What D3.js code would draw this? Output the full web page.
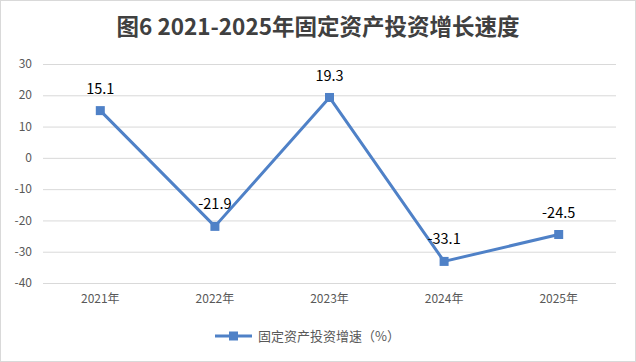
<!DOCTYPE html>
<html>
<head>
<meta charset="utf-8">
<script src="https://cdn.jsdelivr.net/npm/d3@7"></script>
<style>
  body { margin: 0; background: #fff; }
  text { font-family: "Noto Sans CJK SC", "Noto Sans", sans-serif; }
</style>
</head>
<body>
<div id="chart"></div>
<script>
// chart data
var years = ["2021年", "2022年", "2023年", "2024年", "2025年"];
var growth = [15.1, -21.9, 19.3, -33.1, -24.5];
var yTicks = [30, 20, 10, 0, -10, -20, -30, -40];
var seriesName = "固定资产投资增速（%）";
var title = "图6 2021-2025年固定资产投资增长速度";

var W = 636, H = 362;
var margin = { top: 64, right: 20, bottom: 79, left: 43 };

var svg = d3.select("#chart").append("svg")
    .attr("width", W)
    .attr("height", H);

// outer border
svg.append("rect")
    .attr("x", 0.5).attr("y", 0.5)
    .attr("width", W - 1).attr("height", H - 1)
    .attr("fill", "#fff")
    .attr("stroke", "#d9d9d9");

svg.append("text")
    .attr("x", 318).attr("y", 35)
    .attr("text-anchor", "middle")
    .attr("font-size", 22.5)
    .attr("font-weight", "bold")
    .attr("fill", "#404040")
    .text(title);

var x = d3.scaleBand()
    .domain(years)
    .range([margin.left, W - margin.right]);

var y = d3.scaleLinear()
    .domain([-40, 30])
    .range([H - margin.bottom, margin.top]);

// gridlines
svg.append("g")
    .selectAll("line")
    .data(yTicks)
    .join("line")
    .attr("x1", margin.left).attr("x2", W - margin.right)
    .attr("y1", function (d) { return y(d) + 0.5; })
    .attr("y2", function (d) { return y(d) + 0.5; })
    .attr("stroke", "#d9d9d9");

// y axis labels
svg.append("g")
    .selectAll("text")
    .data(yTicks)
    .join("text")
    .attr("x", 32)
    .attr("y", function (d) { return y(d); })
    .attr("dy", "0.35em")
    .attr("text-anchor", "end")
    .attr("font-size", 12)
    .attr("fill", "#595959")
    .text(function (d) { return d; });

// x axis labels
svg.append("g")
    .selectAll("text")
    .data(years)
    .join("text")
    .attr("x", function (d) { return x(d) + x.bandwidth() / 2; })
    .attr("y", 303)
    .attr("text-anchor", "middle")
    .attr("font-size", 12)
    .attr("fill", "#595959")
    .text(function (d) { return d; });

var color = "#4f81c7";

var line = d3.line()
    .x(function (d, i) { return x(years[i]) + x.bandwidth() / 2; })
    .y(function (d) { return y(d); });

svg.append("path")
    .datum(growth)
    .attr("d", line)
    .attr("fill", "none")
    .attr("stroke", color)
    .attr("stroke-width", 3)
    .attr("stroke-linejoin", "round");

svg.append("g")
    .selectAll("rect")
    .data(growth)
    .join("rect")
    .attr("x", function (d, i) { return x(years[i]) + x.bandwidth() / 2 - 4.5; })
    .attr("y", function (d) { return y(d) - 4.5; })
    .attr("width", 9).attr("height", 9)
    .attr("fill", color);

// data labels
svg.append("g")
    .selectAll("text")
    .data(growth)
    .join("text")
    .attr("x", function (d, i) { return x(years[i]) + x.bandwidth() / 2; })
    .attr("y", function (d) { return y(d) - 22; })
    .attr("dy", "0.35em")
    .attr("text-anchor", "middle")
    .attr("font-size", 14.5)
    .attr("fill", "#000")
    .text(function (d) { return d; });

// legend
var lg = svg.append("g").attr("transform", "translate(215,336)");
lg.append("line")
    .attr("x1", 0).attr("x2", 37)
    .attr("stroke", color).attr("stroke-width", 3);
lg.append("rect")
    .attr("x", 14).attr("y", -4.5)
    .attr("width", 9).attr("height", 9)
    .attr("fill", color);
lg.append("text")
    .attr("x", 43).attr("y", 0)
    .attr("dy", "0.35em")
    .attr("font-size", 13)
    .attr("fill", "#595959")
    .text(seriesName);
</script>
</body>
</html>
